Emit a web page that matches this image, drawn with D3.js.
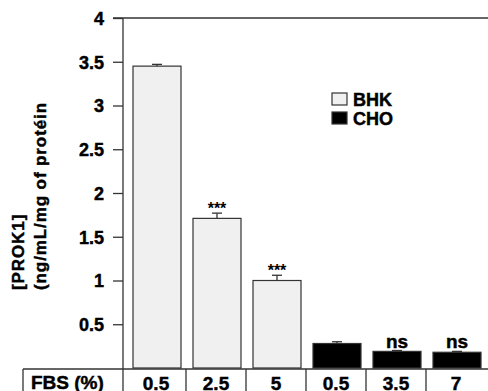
<!DOCTYPE html>
<html>
<head>
<meta charset="utf-8">
<script src="https://d3js.org/d3.v7.min.js"></script>
<style>
  body { margin: 0; background: #fff; }
  svg text { font-family: "Liberation Sans", Arial, Helvetica, sans-serif; font-weight: 700; fill: #000;
             stroke: #000; stroke-width: 0.45px; }
</style>
</head>
<body>
<div id="chart"></div>
<script>
// data
var fbs = ["0.5", "2.5", "5", "0.5", "3.5", "7"];
var cells = ["BHK", "BHK", "BHK", "CHO", "CHO", "CHO"];
var prok1 = [3.45, 1.71, 1.00, 0.28, 0.19, 0.18];
var sem = [0.02, 0.06, 0.06, 0.02, 0.01, 0.01];
var marks = ["", "***", "***", "", "ns", "ns"];
var yTicks = [0.5, 1, 1.5, 2, 2.5, 3, 3.5, 4];

var W = 488, H = 391;
var svg = d3.select('#chart').append('svg').attr('width', W).attr('height', H);

var x = d3.scaleBand().domain(d3.range(fbs.length)).range([126, 486]).paddingInner(0.2).paddingOuter(0.1);
var y = d3.scaleLinear().domain([0, 4]).range([368, 18]);
var colour = d3.scaleOrdinal().domain(["BHK", "CHO"]).range(["#f0f0f0", "#000"]);

var ink = "#333";

// bars
svg.append('g').selectAll('rect').data(prok1).enter().append('rect')
  .attr('x', (d, i) => x(i) + 1)
  .attr('y', d => y(d))
  .attr('width', x.bandwidth())
  .attr('height', d => y(0) - y(d))
  .attr('fill', (d, i) => colour(cells[i]))
  .attr('stroke', ink).attr('stroke-width', 1.2);

// error bars
var eb = svg.append('g').attr('stroke', ink).attr('stroke-width', 1.3);
prok1.forEach(function(d, i) {
  var cx = x(i) + 1 + x.bandwidth() / 2;
  eb.append('line').attr('x1', cx).attr('x2', cx).attr('y1', y(d)).attr('y2', y(d + sem[i]));
  eb.append('line').attr('x1', cx - 5).attr('x2', cx + 5).attr('y1', y(d + sem[i])).attr('y2', y(d + sem[i]));
});

// significance marks
svg.append('g').selectAll('text').data(marks).enter().append('text')
  .attr('x', (d, i) => x(i) + 1 + x.bandwidth() / 2)
  .attr('y', (d, i) => d === "ns" ? y(prok1[i] + sem[i]) - 3 : y(prok1[i] + sem[i]) + 1)
  .attr('text-anchor', 'middle')
  .style('font-size', d => d === "ns" ? '19px' : '16px')
  .style('stroke-width', d => d === "ns" ? '0.45px' : '0px')
  .text(d => d);

// y axis
var yAxis = d3.axisLeft(y).tickValues(yTicks).tickSize(10).tickPadding(9).tickFormat(d3.format('~g'));
var ga = svg.append('g').attr('transform', 'translate(123,0)').call(yAxis);
ga.attr('font-family', null).attr('font-size', null);
ga.select('.domain').remove();
ga.selectAll('.tick line').attr('stroke', ink).attr('stroke-width', 1.3);
ga.selectAll('.tick text').style('font-size', '18px').attr('fill', '#000').attr('dy', '0.36em');

// frame lines
var fr = svg.append('g').attr('stroke', ink).attr('stroke-width', 1.3);
fr.append('line').attr('x1', 123).attr('x2', 123).attr('y1', 18).attr('y2', H);
fr.append('line').attr('x1', 113).attr('x2', W).attr('y1', 18).attr('y2', 18);

// table under the bars
fr.append('line').attr('x1', 23).attr('x2', W).attr('y1', 369).attr('y2', 369);
fr.append('line').attr('x1', 23).attr('x2', 23).attr('y1', 369).attr('y2', H);
d3.range(1, fbs.length).forEach(function(i) {
  var xx = x(i) - x.step() * x.paddingInner() / 2;
  fr.append('line').attr('x1', xx).attr('x2', xx).attr('y1', 369).attr('y2', H);
});
svg.append('text').attr('x', 31).attr('y', 389).style('font-size', '19px').text('FBS (%)');
svg.append('g').selectAll('text').data(fbs).enter().append('text')
  .attr('x', (d, i) => x(i) + x.bandwidth() / 2)
  .attr('y', 390)
  .attr('text-anchor', 'middle')
  .style('font-size', '19px')
  .text(d => d);

// legend
var lg = svg.append('g').attr('transform', 'translate(332,93)');
["BHK", "CHO"].forEach(function(k, i) {
  lg.append('rect').attr('x', 0).attr('y', i * 19).attr('width', 15).attr('height', 12)
    .attr('fill', colour(k)).attr('stroke', ink).attr('stroke-width', 1.2);
  lg.append('text').attr('x', 21).attr('y', i * 19 + 13).style('font-size', '18px').text(k);
});

// y label
var yl = svg.append('text').attr('transform', 'translate(0,290) rotate(-90)').style('font-size', '17px').style('letter-spacing', '0.9px');
yl.append('tspan').attr('x', 0).attr('y', 24).text('[PROK1]');
yl.append('tspan').attr('x', 0).attr('y', 46).text('(ng/mL/mg of protéin');
</script>
</body>
</html>
